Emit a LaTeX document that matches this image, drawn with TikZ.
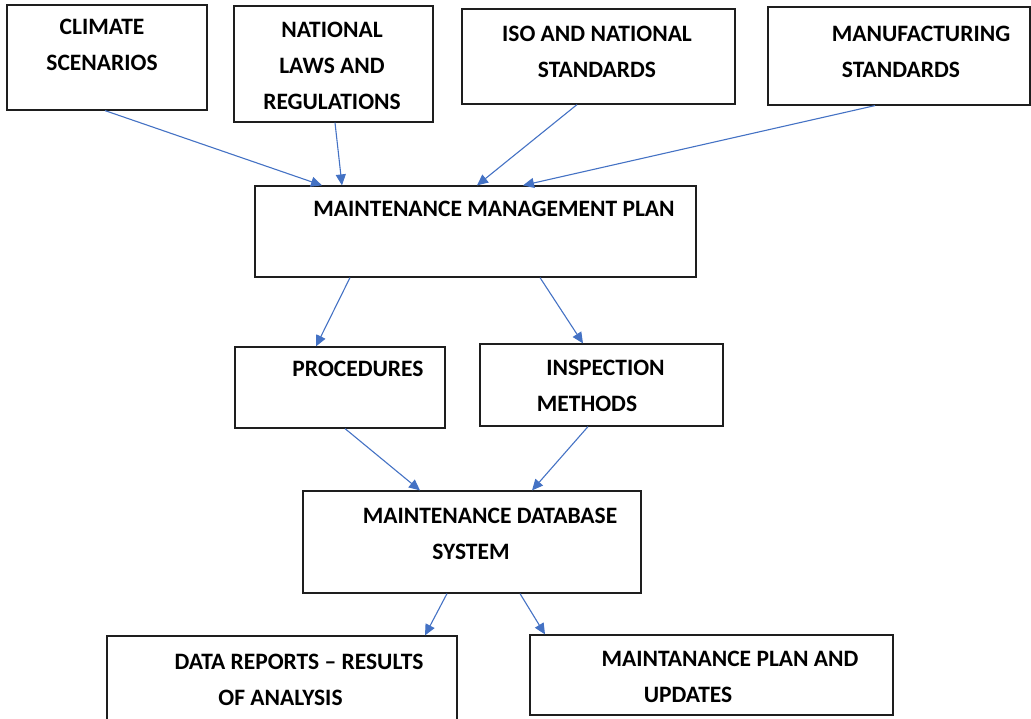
\documentclass[tikz,border=0pt]{standalone}
\usepackage{fontspec}
\setmainfont{Carlito}
\usepackage{tikz}
\usetikzlibrary{arrows.meta, positioning}
\definecolor{myblue}{RGB}{68,114,196}
\definecolor{mydark}{RGB}{30,30,30}
\tikzset{
  box/.style={rectangle, draw=mydark, line width=1.2pt, inner sep=0pt},
  lbl/.style={align=center, inner sep=0pt,
    font=\fontsize{23.5}{36}\selectfont\bfseries},
  arrow/.style={-{Triangle[length=11pt, width=10pt]}, line width=1.1pt, color=myblue}
}

\begin{document}
\begin{tikzpicture}[x=1pt, y=-1pt]
  \useasboundingbox (0,0) rectangle (1031,718);

  % Inputs
  \node[box, minimum width=200pt, minimum height=105pt] (climate) at (107,57.5) {};
  \node[lbl] (climate-t) at (102,45) {CLIMATE\\SCENARIOS};
  \node[box, minimum width=199pt, minimum height=116pt] (national) at (333.5,64) {};
  \node[lbl] (national-t) at (332,66) {NATIONAL\\LAWS AND\\REGULATIONS};
  \node[box, minimum width=273pt, minimum height=95pt] (iso) at (598.5,56.5) {};
  \node[lbl] (iso-t) at (597,51.5) {ISO AND NATIONAL\\STANDARDS};
  \node[box, minimum width=262pt, minimum height=98pt] (manuf) at (899,56) {};
  \node[lbl] (manuf-t) at (901,51.5) {\hspace*{40pt}MANUFACTURING\\STANDARDS};

  % Plan
  \node[box, minimum width=441pt, minimum height=91pt] (mmp) at (475.5,231.5) {};
  \node[lbl] (mmp-t) at (494,208.5) {MAINTENANCE MANAGEMENT PLAN};

  % Procedures and methods
  \node[box, minimum width=210pt, minimum height=81pt] (proc) at (340,387.5) {};
  \node[lbl] (proc-t) at (358,369) {PROCEDURES};
  \node[box, minimum width=243pt, minimum height=82pt] (insp) at (601.5,385) {};
  \node[lbl] (insp-t) at (587,385.5) {\hspace*{37pt}INSPECTION\\METHODS};

  % Database
  \node[box, minimum width=338pt, minimum height=102pt] (mdb) at (472,542) {};
  \node[lbl] (mdb-t) at (471,534) {\hspace*{38pt}MAINTENANCE DATABASE\\SYSTEM};

  % Outputs
  \node[box, minimum width=350pt, minimum height=89pt] (data) at (282,680.5) {};
  \node[lbl] (data-t) at (280.5,679.5) {\hspace*{37pt}DATA REPORTS -- RESULTS\\OF ANALYSIS};
  \node[box, minimum width=363pt, minimum height=80pt] (mpu) at (711.5,675) {};
  \node[lbl] (mpu-t) at (688,676.5) {\hspace*{84pt}MAINTANANCE PLAN AND\\UPDATES};

  % Connectors
  \draw[arrow] ([xshift=-2pt]climate.south) -- ([xshift=-153.5pt]mmp.north);
  \draw[arrow] ([xshift=1.5pt]national.south) -- ([xshift=-133.5pt]mmp.north);
  \draw[arrow] ([xshift=-21.5pt]iso.south) -- ([xshift=1.5pt]mmp.north);
  \draw[arrow] ([xshift=-24pt]manuf.south) -- ([xshift=47.5pt]mmp.north);
  \draw[arrow] ([xshift=-125.5pt]mmp.south) -- ([xshift=-24pt]proc.north);
  \draw[arrow] ([xshift=64.5pt]mmp.south) -- ([xshift=-18.5pt]insp.north);
  \draw[arrow] ([xshift=5pt]proc.south) -- ([xshift=-52pt]mdb.north);
  \draw[arrow] ([xshift=-13.5pt]insp.south) -- ([xshift=60pt]mdb.north);
  \draw[arrow] ([xshift=-25pt]mdb.south) -- ([xshift=143pt]data.north);
  \draw[arrow] ([xshift=48pt]mdb.south) -- ([xshift=-166.5pt]mpu.north);
\end{tikzpicture}
\end{document}
